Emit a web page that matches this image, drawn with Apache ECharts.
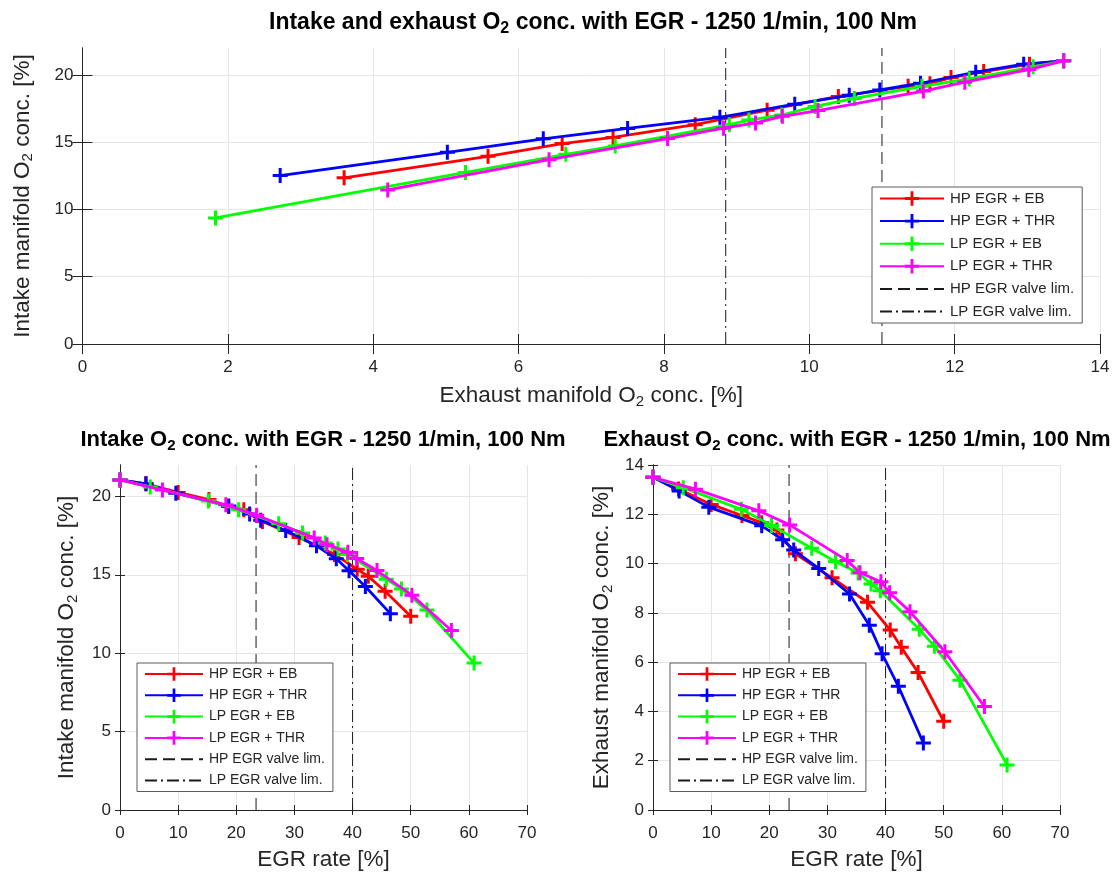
<!DOCTYPE html>
<html>
<head>
<meta charset="utf-8">
<title>O2 concentration with EGR</title>
<script src="https://cdn.jsdelivr.net/npm/echarts@6/dist/echarts.min.js"></script>
<style>
  html, body { margin: 0; padding: 0; background: #ffffff; }
  #chart { width: 1116px; height: 873px; }
</style>
</head>
<body>
<div id="chart"></div>
<script>
// Operating point 1250 1/min, 100 Nm: EGR rate [%], intake and exhaust manifold O2 [%]
const seriesNames = ['HP EGR + EB', 'HP EGR + THR', 'LP EGR + EB', 'LP EGR + THR'];
const seriesColors = ['#ff0000', '#0000ff', '#00ff00', '#ff00ff'];

const hpEbEgr     = [0, 4.4, 10.0, 15.3, 18.7, 21.3, 24.5, 30.8, 36.9, 40.8, 42.7, 45.6, 50.0];
const hpEbIntake  = [21.05, 20.8, 20.25, 19.8, 19.35, 19.15, 18.4, 17.38, 16.3, 15.35, 14.9, 13.95, 12.35];
const hpEbExhaust = [13.5, 13.03, 12.4, 11.95, 11.66, 11.36, 10.4, 9.42, 8.43, 7.3, 6.6, 5.58, 3.6];

const hpThrEgr     = [0, 4.5, 9.6, 18.7, 22.3, 24.2, 28.5, 33.8, 37.2, 39.4, 42.2, 46.5];
const hpThrIntake  = [21.05, 20.8, 20.2, 19.38, 18.88, 18.48, 17.82, 16.85, 16.02, 15.25, 14.25, 12.52];
const hpThrExhaust = [13.5, 12.95, 12.29, 11.53, 10.97, 10.55, 9.8, 8.77, 7.5, 6.34, 5.02, 2.72];

const lpEbEgr     = [0, 5.2, 15.2, 20.4, 27.3, 31.4, 35.3, 37.5, 39.1, 45.8, 48.4, 52.8, 60.9];
const lpEbIntake  = [21.05, 20.6, 19.7, 19.15, 18.25, 17.66, 17.02, 16.64, 16.3, 14.72, 14.1, 12.75, 9.37];
const lpEbExhaust = [13.5, 13.08, 12.2, 11.55, 10.62, 10.08, 9.62, 9.17, 8.9, 7.33, 6.65, 5.27, 1.83];

const lpThrEgr     = [0, 7.3, 18.2, 23.5, 33.4, 35.6, 39.2, 40.7, 44.2, 50.2, 57.0];
const lpThrIntake  = [21.05, 20.4, 19.46, 18.8, 17.35, 16.92, 16.43, 16.04, 15.27, 13.7, 11.45];
const lpThrExhaust = [13.5, 13.02, 12.14, 11.57, 10.12, 9.63, 9.26, 8.82, 8.05, 6.42, 4.2];

// Valve limits: exhaust O2 [%] (top plot) and EGR rate [%] (bottom plots)
const limitNames = ['HP EGR valve lim.', 'LP EGR valve lim.'];
const hpValveLimExhaust = 11.0;
const lpValveLimExhaust = 8.85;
const hpValveLimEgr = 23.4;
const lpValveLimEgr = 40.0;

const egrTicks = { min: 0, max: 70, interval: 10, values: [0, 10, 20, 30, 40, 50, 60, 70] };
const intakeTicks = { min: 0, max: 22, interval: 5, values: [0, 5, 10, 15, 20] };
const exhaustTicks = { min: 0, max: 14, interval: 2, values: [0, 2, 4, 6, 8, 10, 12, 14] };

const egrSets = [hpEbEgr, hpThrEgr, lpEbEgr, lpThrEgr];
const intakeSets = [hpEbIntake, hpThrIntake, lpEbIntake, lpThrIntake];
const exhaustSets = [hpEbExhaust, hpThrExhaust, lpEbExhaust, lpThrExhaust];

const FONT = '"Liberation Sans", Arial, Helvetica, sans-serif';
const INK = '#262626';
const GRIDLINE = '#e6e6e6';
const PLUS = 'path://M40,0 L60,0 L60,40 L100,40 L100,60 L60,60 L60,100 L40,100 L40,60 L0,60 L0,40 L40,40 Z';
const NAME_SIZE = 22.5;

function zip(xs, ys) { return xs.map((x, i) => [x, ys[i]]); }

function sub(text1, text2) {
  return '{t|' + text1 + '}{s|2}{t|' + text2 + '}';
}
function richFor(size, bold) {
  return {
    t: { fontSize: size, fontFamily: FONT, color: INK, fontWeight: bold ? 'bold' : 'normal' },
    s: { fontSize: Math.round(size * 0.68), fontFamily: FONT, color: INK, fontWeight: bold ? 'bold' : 'normal', padding: [Math.round(size * 0.5), 0, 0, 0] }
  };
}

function tickStyle(len, ticks) {
  return { show: true, inside: true, length: len, customValues: ticks.values, lineStyle: { color: INK, width: 1 } };
}

function xAxisFor(grid, ticks, name, tickLen, gap) {
  return [{
    type: 'value', gridIndex: grid, min: ticks.min, max: ticks.max, interval: ticks.interval,
    name: name, nameLocation: 'middle', nameGap: gap,
    nameTextStyle: { rich: richFor(NAME_SIZE, false) },
    axisLine: { show: true, lineStyle: { color: INK, width: 1 } },
    axisTick: tickStyle(tickLen, ticks),
    axisLabel: { fontSize: 17, fontFamily: FONT, color: INK, margin: 15, customValues: ticks.values },
    splitLine: { show: true, lineStyle: { color: GRIDLINE, width: 1 } }
  }, {
    type: 'value', gridIndex: grid, position: 'top', min: ticks.min, max: ticks.max, interval: ticks.interval,
    axisLine: { show: true, lineStyle: { color: INK, width: 1 } },
    axisTick: tickStyle(tickLen, ticks),
    axisLabel: { show: false }, splitLine: { show: false }
  }];
}
function yAxisFor(grid, ticks, name, tickLen, gap) {
  return [{
    type: 'value', gridIndex: grid, min: ticks.min, max: ticks.max, interval: ticks.interval,
    name: name, nameLocation: 'middle', nameGap: gap, nameRotate: 90,
    nameTextStyle: { rich: richFor(NAME_SIZE, false) },
    axisLine: { show: true, lineStyle: { color: INK, width: 1 } },
    axisTick: tickStyle(tickLen, ticks),
    axisLabel: { fontSize: 17, fontFamily: FONT, color: INK, margin: 9, customValues: ticks.values },
    splitLine: { show: true, lineStyle: { color: GRIDLINE, width: 1 } }
  }, {
    type: 'value', gridIndex: grid, position: 'right', min: ticks.min, max: ticks.max, interval: ticks.interval,
    axisLine: { show: true, lineStyle: { color: INK, width: 1 } },
    axisTick: tickStyle(tickLen, ticks),
    axisLabel: { show: false }, splitLine: { show: false }
  }];
}

const series = [];
// plot 0: exhaust vs intake; plot 1: EGR vs intake; plot 2: EGR vs exhaust
const plots = [
  { xSets: exhaustSets, ySets: intakeSets, limits: [hpValveLimExhaust, lpValveLimExhaust], yMax: intakeTicks.max },
  { xSets: egrSets, ySets: intakeSets, limits: [hpValveLimEgr, lpValveLimEgr], yMax: intakeTicks.max },
  { xSets: egrSets, ySets: exhaustSets, limits: [hpValveLimEgr, lpValveLimEgr], yMax: exhaustTicks.max }
];
plots.forEach((p, g) => {
  seriesNames.forEach((name, k) => {
    series.push({
      type: 'line', name: name, xAxisIndex: 2 * g, yAxisIndex: 2 * g,
      data: zip(p.xSets[k], p.ySets[k]),
      symbol: PLUS, symbolSize: 15, showAllSymbol: true, clip: false,
      lineStyle: { color: seriesColors[k], width: 2.8 },
      itemStyle: { color: seriesColors[k] },
      emphasis: { disabled: true }, animation: false, z: 3 + k
    });
  });
  limitNames.forEach((name, k) => {
    series.push({
      type: 'line', name: name, xAxisIndex: 2 * g, yAxisIndex: 2 * g,
      data: [[p.limits[k], 0], [p.limits[k], p.yMax]],
      symbol: 'circle', showSymbol: false, clip: false,
      lineStyle: { color: '#1a1a1a', width: 1, type: k === 0 ? [12, 6] : [12, 4, 2, 4] },
      itemStyle: { color: 'rgba(0,0,0,0)' },
      emphasis: { disabled: true }, animation: false, z: 2
    });
  });
});

const legendNames = seriesNames.concat(limitNames);
function legendAt(left, top, size, width, height, gap) {
  return {
    show: true, orient: 'vertical', left: left, top: top, data: legendNames,
    selectedMode: false, itemWidth: width, itemHeight: height, itemGap: gap,
    padding: [4, 8, 4, 7], backgroundColor: '#ffffff', borderColor: '#5a5a5a', borderWidth: 1,
    textStyle: { fontSize: size, fontFamily: FONT, color: INK, padding: [0, 0, 0, 1] }
  };
}

const titles = [
  { x: 593, y: 23, size: 23, a: 'Intake and exhaust O', b: ' conc. with EGR - 1250 1/min, 100 Nm' },
  { x: 323, y: 440, size: 22, a: 'Intake O', b: ' conc. with EGR - 1250 1/min, 100 Nm' },
  { x: 857, y: 440, size: 22, a: 'Exhaust O', b: ' conc. with EGR - 1250 1/min, 100 Nm' }
];

const option = {
  backgroundColor: '#ffffff',
  animation: false,
  grid: [
    { left: 82.5, right: 16, top: 48, height: 296, show: false },
    { left: 120, width: 407, top: 465, height: 345, show: false },
    { left: 653, width: 407, top: 465, height: 345, show: false }
  ],
  xAxis: [].concat(
    xAxisFor(0, exhaustTicks, sub('Exhaust manifold O', ' conc. [%]'), 10, 39),
    xAxisFor(1, egrTicks, '{t|EGR rate [%]}', 5, 38),
    xAxisFor(2, egrTicks, '{t|EGR rate [%]}', 5, 38)
  ),
  yAxis: [].concat(
    yAxisFor(0, intakeTicks, sub('Intake manifold O', ' conc. [%]'), 10, 47),
    yAxisFor(1, intakeTicks, sub('Intake manifold O', ' conc. [%]'), 5, 40),
    yAxisFor(2, exhaustTicks, sub('Exhaust manifold O', ' conc. [%]'), 5, 38)
  ),
  legend: [
    legendAt(872, 187, 15, 64, 18, 7.6),
    legendAt(137, 663, 14, 58, 17, 7.3),
    legendAt(670, 663, 14, 58, 17, 7.3)
  ],
  graphic: titles.map(t => ({
    type: 'text', x: t.x, y: t.y, z: 100,
    style: {
      text: '{t|' + t.a + '}{s|2}{t|' + t.b + '}',
      rich: richFor(t.size, true),
      align: 'center', verticalAlign: 'middle', textAlign: 'center', textVerticalAlign: 'middle'
    }
  })),
  series: series
};

const chart = echarts.init(document.getElementById('chart'), null, { renderer: 'canvas' });
chart.setOption(option);
</script>
</body>
</html>
